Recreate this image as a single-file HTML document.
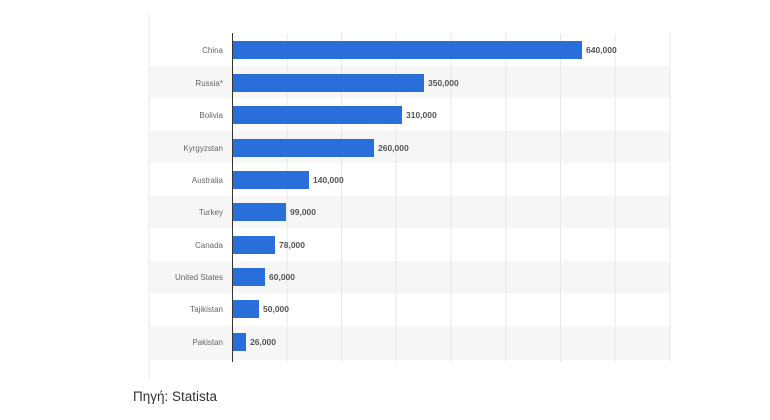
<!DOCTYPE html>
<html><head><style>
body{margin:0;background:#fff;width:770px;height:420px;overflow:hidden;font-family:"Liberation Sans",sans-serif;}
</style></head><body>
<svg width="770" height="420" xmlns="http://www.w3.org/2000/svg" style="position:absolute;left:0;top:0">
<rect x="148" y="14" width="2" height="366" fill="#f3f3f3"/>
<g fill="#f6f6f6">
<rect x="150" y="66" width="520" height="32"/>
<rect x="150" y="131" width="520" height="32"/>
<rect x="150" y="196" width="520" height="32"/>
<rect x="150" y="261" width="520" height="32"/>
<rect x="150" y="326" width="520" height="34"/>
</g>
<g stroke="#e8e8e8" stroke-width="1">
<line x1="287" y1="33" x2="287" y2="362"/><line x1="341.5" y1="33" x2="341.5" y2="362"/>
<line x1="396" y1="33" x2="396" y2="362"/><line x1="451" y1="33" x2="451" y2="362"/>
<line x1="506" y1="33" x2="506" y2="362"/><line x1="560.5" y1="33" x2="560.5" y2="362"/>
<line x1="615" y1="33" x2="615" y2="362"/><line x1="670" y1="33" x2="670" y2="362"/>
</g>
<g fill="#2a6fd9">
<rect x="232" y="41" width="350" height="18"/>
<rect x="232" y="74" width="192" height="18"/>
<rect x="232" y="106" width="170" height="18"/>
<rect x="232" y="139" width="142" height="18"/>
<rect x="232" y="171" width="77" height="18"/>
<rect x="232" y="203" width="54" height="18"/>
<rect x="232" y="236" width="43" height="18"/>
<rect x="232" y="268" width="33" height="18"/>
<rect x="232" y="300" width="27" height="18"/>
<rect x="232" y="333" width="14" height="18"/>
</g>
<line x1="232.5" y1="33" x2="232.5" y2="362" stroke="#333" stroke-width="1"/>
<g font-size="8" fill="#666" text-anchor="end">
<text x="223" y="53">China</text><text x="223" y="86">Russia*</text>
<text x="223" y="118">Bolivia</text><text x="223" y="151">Kyrgyzstan</text>
<text x="223" y="183">Australia</text><text x="223" y="215">Turkey</text>
<text x="223" y="248">Canada</text><text x="223" y="280">United States</text>
<text x="223" y="312">Tajikistan</text><text x="223" y="345">Pakistan</text>
</g>
<g font-size="8.5" fill="#555" font-weight="bold">
<text x="586" y="53">640,000</text><text x="428" y="86">350,000</text>
<text x="406" y="118">310,000</text><text x="378" y="151">260,000</text>
<text x="313" y="183">140,000</text><text x="290" y="215">99,000</text>
<text x="279" y="248">78,000</text><text x="269" y="280">60,000</text>
<text x="263" y="312">50,000</text><text x="250" y="345">26,000</text>
</g>
<text x="133" y="401" font-size="13.5" fill="#333">Πηγή: Statista</text>
</svg>
</body></html>
